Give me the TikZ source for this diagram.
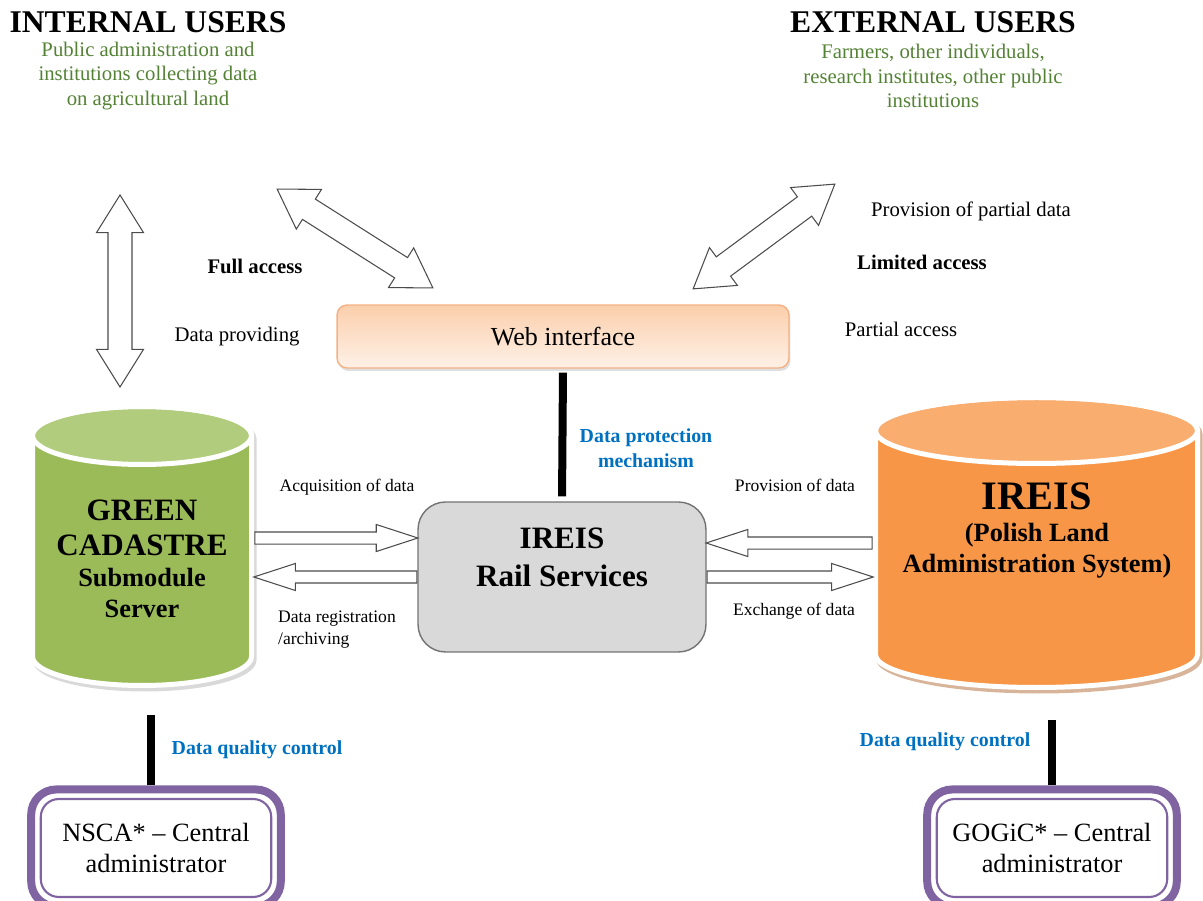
\documentclass[tikz,border=0pt]{standalone}
\usepackage{xcolor}
\usepackage{fontspec}
\setmainfont{Liberation Serif}
\usepackage{tikz}
\usetikzlibrary{shapes.arrows,calc,fit,shadows}

\definecolor{usergreen}{HTML}{548235}
\definecolor{noteblue}{HTML}{0070C0}
\definecolor{cadgreen}{HTML}{9BBB59}
\definecolor{cadgreentop}{HTML}{B0CC7C}
\definecolor{cadshadow}{HTML}{D9D9D9}
\definecolor{ireisorange}{HTML}{F79646}
\definecolor{ireisorangetop}{HTML}{F9AD6E}
\definecolor{ireisshadow}{HTML}{D8B49A}
\definecolor{webtop}{HTML}{FBCFAC}
\definecolor{webbottom}{HTML}{FEF1E7}
\definecolor{webborder}{HTML}{F4B183}
\definecolor{railgray}{HTML}{D9D9D9}
\definecolor{admpurple}{HTML}{8064A2}

\tikzset{
  headtext/.style={font=\fontsize{18pt}{20pt}\selectfont\bfseries},
  usertext/.style={text=usergreen, align=center, font=\fontsize{11.8pt}{13.9pt}\selectfont},
  accesstext/.style={font=\fontsize{11.8pt}{14pt}\selectfont},
  flowtext/.style={align=left, font=\fontsize{10pt}{13pt}\selectfont},
  controltext/.style={text=noteblue, align=center, font=\fontsize{11.3pt}{14pt}\selectfont\bfseries},
  dbnode/.style={rectangle, inner sep=0pt},
  bigtext/.style={align=center, font=\fontsize{17.7pt}{19.8pt}\selectfont\bfseries},
  midtext/.style={align=center, font=\fontsize{15pt}{17.2pt}\selectfont\bfseries},
  webbox/.style={draw=webborder, line width=0.8pt, rounded corners=0.2cm,
    top color=webtop, bottom color=webbottom, minimum width=9.04cm, minimum height=1.26cm,
    font=\fontsize{14.8pt}{17pt}\selectfont,
    drop shadow={opacity=0.25, shadow xshift=0.03cm, shadow yshift=-0.06cm}},
  railbox/.style={draw=black!55, line width=0.8pt, rounded corners=0.55cm, fill=railgray,
    minimum width=5.76cm, minimum height=3cm},
  railtext/.style={align=center, font=\fontsize{17.7pt}{21.5pt}\selectfont\bfseries},
  admbox/.style={draw=admpurple, line width=1.2pt, rounded corners=0.36cm, fill=white,
    minimum width=4.61cm, minimum height=1.96cm, align=center,
    font=\fontsize{15pt}{18pt}\selectfont},
  admframe/.style={draw=admpurple, line width=0.16cm, rounded corners=0.5cm, inner sep=0.17cm},
  hollowarrow/.style={single arrow, draw=black!70, fill=white, line width=0.6pt,
    inner xsep=0pt, inner ysep=0.11cm, pos=0, anchor=tail,
    single arrow head extend=0.15cm, single arrow tip angle=36},
  bigarrow/.style={double arrow, draw=black!70, fill=white, line width=0.6pt,
    inner xsep=0pt, inner ysep=0.23cm,
    double arrow head extend=0.23cm, double arrow tip angle=64},
  thickline/.style={line width=0.16cm},
}

% block arrow laid between two points
\newcommand{\blockarrow}[3]{%
  \path let \p1=($(#3)-(#2)$), \n1={veclen(\x1,\y1)} in
    (#2) -- (#3) node[midway, sloped, allow upside down, minimum height=\n1, #1] {};}

% drum: centre x, top y, bottom y, half width, end radius, body, top, shadow
\newcommand{\dbdrum}[8]{%
  \def\drumpath{(#1-#4,#2) -- (#1-#4,#3)
    arc[start angle=180, end angle=360, x radius={#4*0.02cm}, y radius={#5*0.02cm}]
    -- (#1+#4,#2)
    arc[start angle=0, end angle=180, x radius={#4*0.02cm}, y radius={#5*0.02cm}] -- cycle}
  \draw[#8, fill=#8, line width=0.1cm, shift={(0.05cm,-0.07cm)}] \drumpath;
  \fill[#6] \drumpath;
  \fill[#7] (#1,#2) ellipse[x radius={#4*0.02cm}, y radius={#5*0.02cm}];
  \draw[white, line width=0.1cm] \drumpath;
  \draw[white, line width=0.1cm] (#1,#2) ellipse[x radius={#4*0.02cm}, y radius={#5*0.02cm}];}

\begin{document}
\begin{tikzpicture}[x=0.02cm, y=-0.02cm]
\useasboundingbox (0,0) rectangle (1203,901);

% users
\node[headtext] (inthead) at (148,22) {INTERNAL USERS};
\node[usertext] (intusers) at (148,76) {Public administration and\\institutions collecting data\\on agricultural land};
\node[headtext] (exthead) at (933,22) {EXTERNAL USERS};
\node[usertext] (extusers) at (933,76) {Farmers, other individuals,\\research institutes, other public\\institutions};

% web interface and rail services
\node[webbox] (web) at (563,336.5) {Web interface};
\node[railbox] (rail) at (562,577) {};
\node[railtext] at ([yshift=0.4cm]rail.center) {IREIS\\Rail Services};
\draw[thickline, shorten <=0.08cm, shorten >=0.1cm] (web.south) -- (rail.north);
\node[controltext] (protect) at (646,448) {Data protection\\mechanism};

% databases
\dbdrum{142}{435.5}{656.5}{109.5}{29}{cadgreen}{cadgreentop}{cadshadow}
\node[dbnode, minimum width=4.48cm, minimum height=5.68cm] (gc) at (142,546) {};
\node[bigtext] at (142,527.5) {GREEN\\CADASTRE};
\node[midtext] at (142,593) {Submodule\\Server};
\dbdrum{1036.5}{430.5}{654.5}{161}{33}{ireisorange}{ireisorangetop}{ireisshadow}
\node[dbnode, minimum width=6.54cm, minimum height=5.9cm] (ireis) at (1036.5,542.5) {};
\node[bigtext, font=\fontsize{23pt}{26pt}\selectfont\bfseries] at (1037,496) {IREIS};
\node[midtext, font=\fontsize{15pt}{17.6pt}\selectfont\bfseries] at (1037,550.5) {(Polish Land\\Administration System)};

% access arrows
\coordinate (iuport) at (120,195);
\coordinate (gcport) at (120,387);
\coordinate (iuweb) at (277,189);
\coordinate (webin) at (433,288);
\coordinate (euweb) at (835,184);
\coordinate (webout) at (693,289);
\blockarrow{bigarrow}{iuport}{gcport}
\blockarrow{bigarrow}{iuweb}{webin}
\blockarrow{bigarrow}{euweb}{webout}
\node[accesstext, font=\fontsize{11.8pt}{14pt}\selectfont\bfseries] at (255,266) {Full access};
\node[accesstext] at (237,337) {Data providing};
\node[accesstext] at (971,211) {Provision of partial data};
\node[accesstext, font=\fontsize{11.8pt}{14pt}\selectfont\bfseries] at (922,262) {Limited access};
\node[accesstext] at (901,329) {Partial access};

% data exchange arrows
\coordinate (acqR) at ([yshift=0.78cm]rail.west);
\coordinate (acqL) at (gc.east |- acqR);
\coordinate (regR) at (rail.west);
\coordinate (regL) at (gc.east |- regR);
\coordinate (provL) at ([yshift=0.68cm]rail.east);
\coordinate (provR) at (ireis.west |- provL);
\coordinate (exL) at (rail.east);
\coordinate (exR) at (ireis.west |- exL);
\blockarrow{hollowarrow}{acqL}{acqR}
\blockarrow{hollowarrow}{regR}{regL}
\blockarrow{hollowarrow}{provR}{provL}
\blockarrow{hollowarrow}{exL}{exR}
\node[flowtext] at (347,487) {Acquisition of data};
\node[flowtext, anchor=west] at (272,629.5) {Data registration\\/archiving};
\node[flowtext] at (795,485) {Provision of data};
\node[flowtext] at (794,611) {Exchange of data};

% administrators
\node[admbox] (nsca) at (156,848) {NSCA* -- Central\\administrator};
\node[admframe, fit=(nsca)] (nscaframe) {};
\node[admbox] (gogic) at (1052,848) {GOGiC* -- Central\\administrator};
\node[admframe, fit=(gogic)] (gogicframe) {};
\coordinate (gcq) at (151,715);
\coordinate (irq) at (1052,720);
\draw[thickline] (gcq) -- (gcq |- nscaframe.north);
\draw[thickline] (irq) -- (irq |- gogicframe.north);
\node[controltext] at (257,750) {Data quality control};
\node[controltext] at (945,742) {Data quality control};
\end{tikzpicture}
\end{document}
